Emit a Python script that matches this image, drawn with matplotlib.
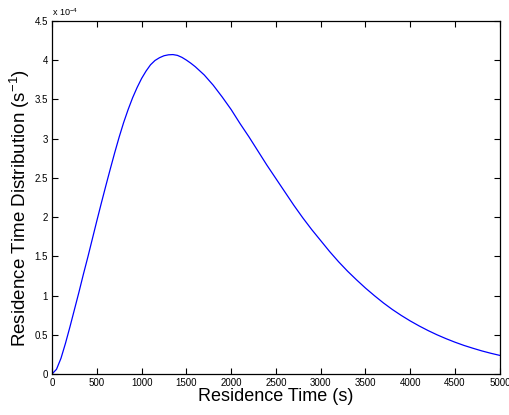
import matplotlib
matplotlib.use("Agg")
import matplotlib.pyplot as plt

# residence time (s) and distribution (units of 1e-4 s^-1)
t = [0, 50, 100, 150, 200, 250, 300, 350, 400, 450, 500, 550, 600, 650, 700, 750,
     800, 850, 900, 950, 1000, 1050, 1100, 1150, 1200, 1250, 1300, 1350, 1400,
     1450, 1500, 1550, 1600, 1700, 1800, 1900, 2000, 2100, 2200, 2300, 2400, 2500,
     2600, 2700, 2800, 2900, 3000, 3100, 3200, 3300, 3400, 3500, 3600, 3700, 3800,
     3900, 4000, 4100, 4200, 4300, 4400, 4500, 4600, 4700, 4800, 4900, 5000]
E = [0.0, 0.06, 0.20, 0.39, 0.60, 0.82, 1.04, 1.27, 1.49, 1.72, 1.95, 2.175, 2.395,
     2.61, 2.82, 3.02, 3.205, 3.37, 3.52, 3.65, 3.765, 3.86, 3.94, 3.995, 4.03,
     4.055, 4.067, 4.07, 4.06, 4.035, 4.00, 3.96, 3.915, 3.81, 3.68, 3.53, 3.37,
     3.19, 3.02, 2.84, 2.66, 2.49, 2.32, 2.15, 1.99, 1.84, 1.70, 1.56, 1.43, 1.31,
     1.20, 1.095, 0.998, 0.906, 0.822, 0.746, 0.676, 0.612, 0.553, 0.499, 0.450,
     0.405, 0.364, 0.328, 0.294, 0.264, 0.237]

xticks = [0, 500, 1000, 1500, 2000, 2500, 3000, 3500, 4000, 4500, 5000]
yticks = [0, 0.5, 1, 1.5, 2, 2.5, 3, 3.5, 4, 4.5]
ytick_labels = ['0', '0.5', '1', '1.5', '2', '2.5', '3', '3.5', '4', '4.5']

plt.rcParams['font.family'] = ['Liberation Sans', 'DejaVu Sans']
plt.rcParams['mathtext.fontset'] = 'custom'
plt.rcParams['mathtext.rm'] = 'Liberation Sans'
plt.rcParams['mathtext.it'] = 'Liberation Sans'

fig = plt.figure(figsize=(5.1, 4.15), dpi=100)
ax = fig.add_axes([0.102, 0.0988, 0.878, 0.851])

ax.plot(t, E, color='#0000ff', linewidth=0.9)

ax.set_xlim(0, 5000)
ax.set_ylim(0, 4.5)
ax.set_xticks(xticks)
ax.set_xticklabels([str(v) for v in xticks])
ax.set_yticks(yticks)
ax.set_yticklabels(ytick_labels)
ax.tick_params(direction='in', length=4, width=0.8, top=True, right=True,
               labelsize=7, pad=3)
for s in ax.spines.values():
    s.set_linewidth(0.9)

ax.set_xlabel('Residence Time (s)', fontsize=13, labelpad=0)
ax.set_ylabel('Residence Time Distribution (s$^{-1}$)', fontsize=13.5, labelpad=0)
ax.yaxis.set_label_coords(-0.045, 0.47)
ax.text(0.0, 1.008, 'x 10$^{-4}$', transform=ax.transAxes, fontsize=6.5,
        ha='left', va='bottom')

fig.savefig('out.png', dpi=100)
